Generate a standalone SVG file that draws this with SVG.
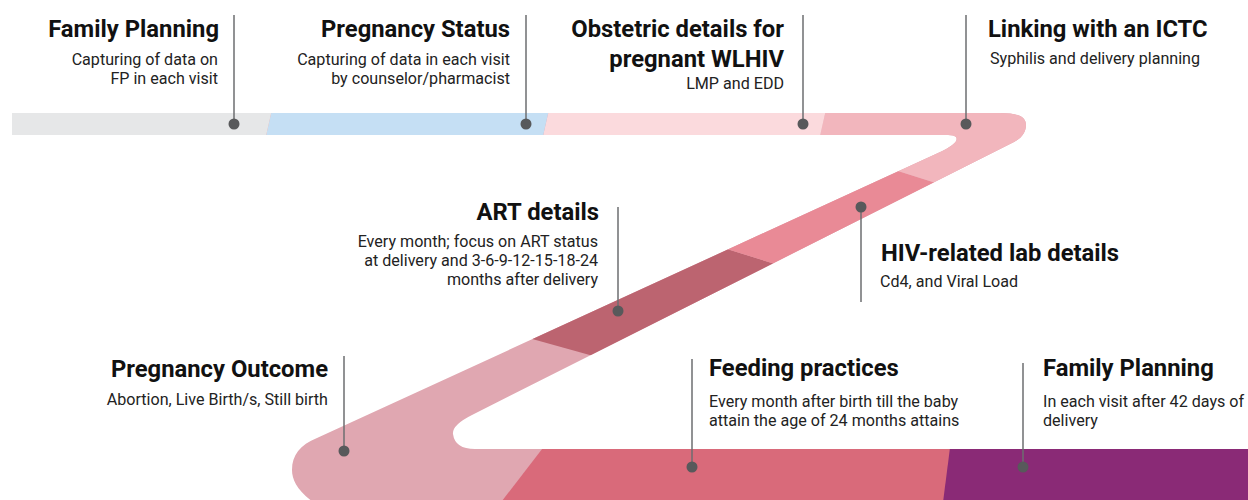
<svg xmlns="http://www.w3.org/2000/svg" width="1248" height="500" viewBox="0 0 1248 500">
<style>
.t{font-family:Roboto,"Liberation Sans",sans-serif;font-weight:bold;font-size:23.8px;fill:#111}
.s{font-family:Roboto,"Liberation Sans",sans-serif;font-size:16.1px;fill:#222}
.r{text-anchor:end}
.ln{stroke:#6d6e71;stroke-width:1.5;fill:none}
.dot{fill:#58595b}
</style>
<defs>
<clipPath id="road">
<path d="M12 113 H1000 C1016 113 1026 116 1026 125 C1026 132 1022 138 1014 142 L472 415 Q452 425 453 434 Q455 449 475 449 H1260 V510 H325 C300 495 292 482 292 470 C292 455 300 445 317 438 L938 153 Q960 143 956 137 Q954 135 948 135 H12 Z"/>
</clipPath>
</defs>
<g id="timeline" clip-path="url(#road)">
<rect x="0" y="100" width="1260" height="410" fill="#e0a7b1"/>
<polygon points="549,440 1260,440 1260,510 495,510" fill="#d96a7a"/>
<polygon points="951,440 1260,440 1260,510 942,510" fill="#8a2a76"/>
<polygon points="500,330 640,369 820,278 690,237.5" fill="#bc6470"/>
<polygon points="690,237.5 820,278 1040,216 860,159" fill="#e98a96"/>
<polygon points="827,105 1100,105 1100,216 1040,216 860,159 818,145" fill="#f2b6bd"/>
<polygon points="550,105 827,105 818,145 541,145" fill="#fbdadd"/>
<polygon points="273,105 550,105 541,145 264,145" fill="#c5dff4"/>
<polygon points="0,105 273,105 264,145 0,145" fill="#e6e7e8"/>
</g>
<g id="connectors">
<line class="ln" x1="234" y1="15" x2="234" y2="124"/>
<line class="ln" x1="526" y1="15" x2="526" y2="124"/>
<line class="ln" x1="803" y1="15" x2="803" y2="124"/>
<line class="ln" x1="966" y1="15" x2="966" y2="124"/>
<line class="ln" x1="618" y1="207" x2="618" y2="311"/>
<line class="ln" x1="861" y1="207" x2="861" y2="302"/>
<line class="ln" x1="344" y1="356" x2="344" y2="451"/>
<line class="ln" x1="692" y1="359" x2="692" y2="467"/>
<line class="ln" x1="1023" y1="363" x2="1023" y2="467"/>
<circle class="dot" cx="234" cy="124" r="5.5"/>
<circle class="dot" cx="526" cy="124" r="5.5"/>
<circle class="dot" cx="803" cy="124" r="5.5"/>
<circle class="dot" cx="966" cy="124" r="5.5"/>
<circle class="dot" cx="618" cy="311" r="5.5"/>
<circle class="dot" cx="861" cy="207" r="5.5"/>
<circle class="dot" cx="344" cy="451" r="5.5"/>
<circle class="dot" cx="692" cy="467" r="5.5"/>
<circle class="dot" cx="1023" cy="467" r="5.5"/>
</g>
<g id="family-planning-1">
<text class="t r" x="219" y="37">Family Planning</text>
<text class="s r" x="218" y="65">Capturing of data on</text>
<text class="s r" x="218" y="84">FP in each visit</text>
</g>
<g id="pregnancy-status">
<text class="t r" x="510" y="37">Pregnancy Status</text>
<text class="s r" x="510" y="65">Capturing of data in each visit</text>
<text class="s r" x="510" y="84">by counselor/pharmacist</text>
</g>
<g id="obstetric">
<text class="t r" x="784" y="37">Obstetric details for</text>
<text class="t r" x="784" y="67">pregnant WLHIV</text>
<text class="s r" x="784" y="89">LMP and EDD</text>
</g>
<g id="ictc">
<text class="t" x="988" y="37">Linking with an ICTC</text>
<text class="s" x="990" y="64">Syphilis and delivery planning</text>
</g>
<g id="art">
<text class="t r" x="599" y="220">ART details</text>
<text class="s r" x="598" y="247">Every month; focus on ART status</text>
<text class="s r" x="598" y="266">at delivery and 3-6-9-12-15-18-24</text>
<text class="s r" x="598" y="285">months after delivery</text>
</g>
<g id="hiv-lab">
<text class="t" x="881" y="261">HIV-related lab details</text>
<text class="s" x="880" y="287">Cd4, and Viral Load</text>
</g>
<g id="pregnancy-outcome">
<text class="t r" x="328" y="377">Pregnancy Outcome</text>
<text class="s r" x="328" y="405">Abortion, Live Birth/s, Still birth</text>
</g>
<g id="feeding">
<text class="t" x="709" y="376">Feeding practices</text>
<text class="s" x="709" y="407">Every month after birth till the baby</text>
<text class="s" x="709" y="426">attain the age of 24 months attains</text>
</g>
<g id="family-planning-2">
<text class="t" x="1043" y="376">Family Planning</text>
<text class="s" x="1043" y="407">In each visit after 42 days of</text>
<text class="s" x="1043" y="426">delivery</text>
</g>
</svg>
